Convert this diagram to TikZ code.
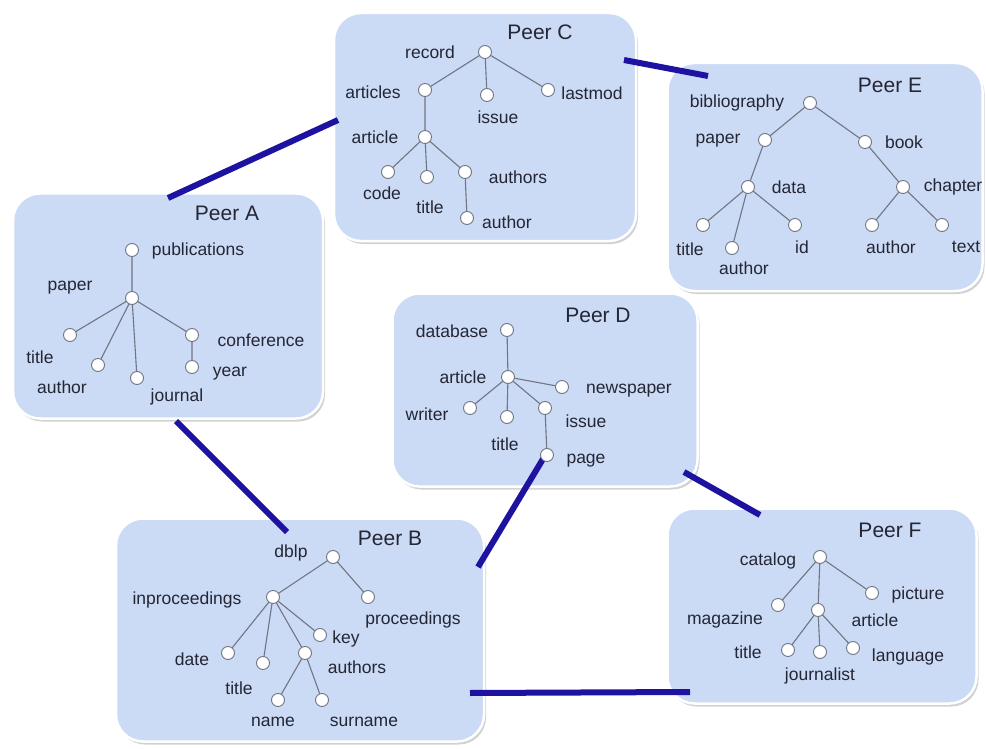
\documentclass[tikz,border=0pt]{standalone}
\usepackage{fontspec}
\setmainfont{Liberation Sans}
\usetikzlibrary{shadows}
\definecolor{boxfill}{RGB}{203,218,245}
\definecolor{link}{RGB}{30,18,160}
\definecolor{txt}{RGB}{36,38,52}
\definecolor{edge}{RGB}{112,118,130}
\tikzset{
  peerbox/.style={draw=white, line width=2.5pt, fill=boxfill, rounded corners=27pt,
     drop shadow={shadow xshift=2pt, shadow yshift=-3pt, opacity=0.35, fill=gray}},
  tn/.style={circle, draw=edge, fill=white, line width=0.9pt, minimum size=13pt, inner sep=0pt},
  lb/.style={text=txt, font=\fontsize{17.5}{19}\selectfont, inner sep=0pt},
  ttl/.style={text=txt, font=\fontsize{21}{24}\selectfont, inner sep=0pt},
  tedge/.style={draw=edge, line width=1.1pt},
  peerlink/.style={draw=link, line width=6pt}
}
\begin{document}
\begin{tikzpicture}[x=1pt,y=-1pt]
\useasboundingbox (0,0) rectangle (986,749);
\fill[white] (0,0) rectangle (986,749);
% link end points
\coordinate (lce1) at (624,60); \coordinate (lce2) at (708,76);
\coordinate (lca1) at (338,120); \coordinate (lca2) at (168,198);
\coordinate (lab1) at (176,421); \coordinate (lab2) at (287,532);
\coordinate (ldb1) at (546,454); \coordinate (ldb2) at (478,567);
\coordinate (ldf1) at (684,472); \coordinate (ldf2) at (760,515);
\coordinate (lbf1) at (470,693); \coordinate (lbf2) at (690,692);
% boxes
\node[peerbox, minimum width=302pt, minimum height=228pt] (boxC) at (485,127) {};
\node[peerbox, minimum width=315pt, minimum height=228pt] (boxE) at (825,177) {};
\node[peerbox, minimum width=310pt, minimum height=225pt] (boxA) at (168,306) {};
\node[peerbox, minimum width=305pt, minimum height=193pt] (boxD) at (545,390) {};
\node[peerbox, minimum width=368pt, minimum height=223pt] (boxB) at (300,630) {};
\node[peerbox, minimum width=309pt, minimum height=195pt] (boxF) at (822,606) {};
\draw[peerlink] (lce1) -- (lce2);
\draw[peerlink] (lca1) -- (lca2);
\draw[peerlink] (lab1) -- (lab2);
\draw[peerlink] (ldb1) -- (ldb2);
\draw[peerlink] (ldf1) -- (ldf2);
\draw[peerlink] (lbf1) -- (lbf2);
% ---------- Peer C
\node[ttl] (tC) at (540,32) {Peer C};
\path (485,52) coordinate (c1) (425,90) coordinate (c2) (487,95) coordinate (c3)
      (548,90) coordinate (c4) (425,137) coordinate (c5) (388,172) coordinate (c6)
      (427,177) coordinate (c7) (465,172) coordinate (c8) (467,218) coordinate (c9);
\draw[tedge] (c1)--(c2) (c1)--(c3) (c1)--(c4) (c2)--(c5) (c5)--(c6) (c5)--(c7) (c5)--(c8) (c8)--(c9);
\foreach \n in {c1,c2,c3,c4,c5,c6,c7,c8,c9} \node[tn] at (\n) {};
\node[lb] (lc1) at (430,52) {record};
\node[lb] (lc2) at (373,92) {articles};
\node[lb] (lc3) at (498,117) {issue};
\node[lb] (lc4) at (592,93) {lastmod};
\node[lb] (lc5) at (375,137) {article};
\node[lb] (lc6) at (382,193) {code};
\node[lb] (lc7) at (430,207) {title};
\node[lb] (lc8) at (518,177) {authors};
\node[lb] (lc9) at (507,222) {author};
% ---------- Peer E
\node[ttl] (tE) at (890,85) {Peer E};
\path (810,103) coordinate (e1) (765,140) coordinate (e2) (865,142) coordinate (e3)
      (748,187) coordinate (e4) (903,187) coordinate (e5) (703,225) coordinate (e6)
      (732,248) coordinate (e7) (795,225) coordinate (e8) (872,225) coordinate (e9)
      (942,225) coordinate (e10);
\draw[tedge] (e1)--(e2) (e1)--(e3) (e2)--(e4) (e4)--(e6) (e4)--(e7) (e4)--(e8) (e3)--(e5) (e5)--(e9) (e5)--(e10);
\foreach \n in {e1,e2,e3,e4,e5,e6,e7,e8,e9,e10} \node[tn] at (\n) {};
\node[lb] (le1) at (737,103) {bibliography};
\node[lb] (le2) at (718,141) {paper};
\node[lb] (le3) at (904,142) {book};
\node[lb] (le4) at (789,187) {data};
\node[lb] (le5) at (953,187) {chapter};
\node[lb] (le6) at (690,249) {title};
\node[lb] (le7) at (744,268) {author};
\node[lb] (le8) at (802,247) {id};
\node[lb] (le9) at (891,247) {author};
\node[lb] (le10) at (966,247) {text};
% ---------- Peer A
\node[ttl] (tA) at (227,213) {Peer A};
\path (132,250) coordinate (a1) (132,298) coordinate (a2) (70,335) coordinate (a3)
      (98,365) coordinate (a4) (137,378) coordinate (a5) (192,335) coordinate (a6)
      (192,367) coordinate (a7);
\draw[tedge] (a1)--(a2) (a2)--(a3) (a2)--(a4) (a2)--(a5) (a2)--(a6) (a6)--(a7);
\foreach \n in {a1,a2,a3,a4,a5,a6,a7} \node[tn] at (\n) {};
\node[lb] (la1) at (198,251) {publications};
\node[lb] (la2) at (70,288) {paper};
\node[lb] (la3) at (40,357) {title};
\node[lb] (la4) at (62,387) {author};
\node[lb] (la5) at (177,397) {journal};
\node[lb] (la6) at (261,340) {conference};
\node[lb] (la7) at (230,374) {year};
% ---------- Peer D
\node[ttl] (tD) at (598,315) {Peer D};
\path (507,330) coordinate (d1) (508,377) coordinate (d2) (562,387) coordinate (d3)
      (470,408) coordinate (d4) (507,417) coordinate (d5) (545,408) coordinate (d6)
      (547,455) coordinate (d7);
\draw[tedge] (d1)--(d2) (d2)--(d3) (d2)--(d4) (d2)--(d5) (d2)--(d6) (d6)--(d7);
\foreach \n in {d1,d2,d3,d4,d5,d6,d7} \node[tn] at (\n) {};
\node[lb] (ld1) at (452,331) {database};
\node[lb] (ld2) at (463,377) {article};
\node[lb] (ld3) at (629,391) {newspaper};
\node[lb] (ld4) at (427,414) {writer};
\node[lb] (ld5) at (505,444) {title};
\node[lb] (ld6) at (586,421) {issue};
\node[lb] (ld7) at (586,461) {page};
% ---------- Peer B
\node[ttl] (tB) at (390,538) {Peer B};
\path (333,557) coordinate (b1) (273,597) coordinate (b2) (368,597) coordinate (b3)
      (320,635) coordinate (b4) (228,653) coordinate (b5) (263,663) coordinate (b6)
      (305,653) coordinate (b7) (278,700) coordinate (b8) (322,700) coordinate (b9);
\draw[tedge] (b1)--(b2) (b1)--(b3) (b2)--(b4) (b2)--(b5) (b2)--(b6) (b2)--(b7) (b7)--(b8) (b7)--(b9);
\foreach \n in {b1,b2,b3,b4,b5,b6,b7,b8,b9} \node[tn] at (\n) {};
\node[lb] (lb1) at (291,553) {dblp};
\node[lb] (lb2) at (187,600) {inproceedings};
\node[lb] (lb3) at (413,620) {proceedings};
\node[lb] (lb4) at (346,639) {key};
\node[lb] (lb5) at (192,659) {date};
\node[lb] (lb6) at (239,688) {title};
\node[lb] (lb7) at (357,667) {authors};
\node[lb] (lb8) at (273,722) {name};
\node[lb] (lb9) at (364,722) {surname};
% ---------- Peer F
\node[ttl] (tF) at (890,530) {Peer F};
\path (820,557) coordinate (f1) (872,593) coordinate (f2) (778,605) coordinate (f3)
      (818,610) coordinate (f4) (788,650) coordinate (f5) (820,652) coordinate (f6)
      (853,648) coordinate (f7);
\draw[tedge] (f1)--(f2) (f1)--(f3) (f1)--(f4) (f4)--(f5) (f4)--(f6) (f4)--(f7);
\foreach \n in {f1,f2,f3,f4,f5,f6,f7} \node[tn] at (\n) {};
\node[lb] (lf1) at (768,561) {catalog};
\node[lb] (lf2) at (918,595) {picture};
\node[lb] (lf3) at (725,620) {magazine};
\node[lb] (lf4) at (875,620) {article};
\node[lb] (lf5) at (748,652) {title};
\node[lb] (lf6) at (820,676) {journalist};
\node[lb] (lf7) at (908,657) {language};
\end{tikzpicture}
\end{document}
